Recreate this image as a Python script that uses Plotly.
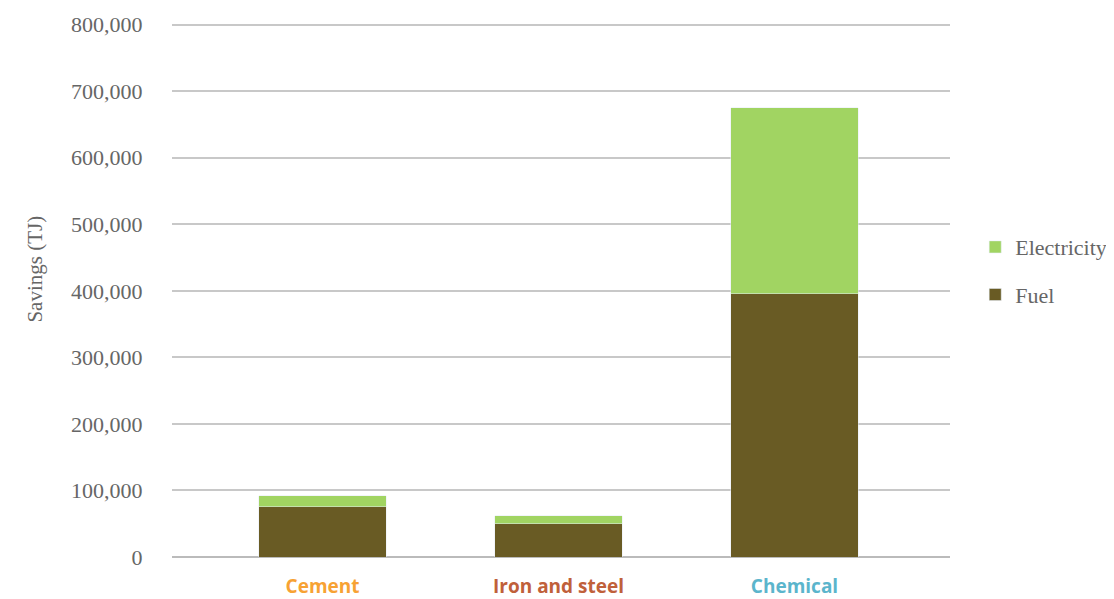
import plotly.graph_objects as go

categories = ["Cement", "Iron and steel", "Chemical"]
fuel = [75500, 50300, 395600]
electricity = [16800, 12000, 279500]
cat_colors = ["#F7A234", "#C0603A", "#5BB5CC"]
tick_vals = [0, 100000, 200000, 300000, 400000, 500000, 600000, 700000, 800000]
tick_text = ["0", "100,000", "200,000", "300,000", "400,000", "500,000", "600,000", "700,000", "800,000"]

x_idx = list(range(len(categories)))

fig = go.Figure()
fig.add_trace(go.Bar(x=x_idx, y=fuel, name="Fuel", marker_color="#695B24",
                     width=0.54, legendgroup="f", legendrank=2))
fig.add_trace(go.Bar(x=x_idx, y=electricity, name="Electricity", marker_color="#A1D462",
                     width=0.54, legendgroup="e", legendrank=1))

# page body has an 8px default margin, so the figure is offset by 8px
W, H = 1106, 591
plot_h = 539.2
fig.update_layout(
    barmode="stack",
    width=W, height=H,
    margin=dict(l=164, r=164, t=H - 41.5 - plot_h, b=41.5, autoexpand=False),
    plot_bgcolor="white", paper_bgcolor="white",
    font=dict(family="Liberation Serif", color="#666666", size=21),
    legend=dict(x=1.0324, y=(557.5 - 271.5) / plot_h, xanchor="left", yanchor="middle",
                traceorder="grouped", tracegroupgap=16,
                font=dict(family="Liberation Serif", size=22, color="#666666")),
    xaxis=dict(range=[-0.638, 2.659], tickmode="array", tickvals=x_idx,
               ticktext=[f"<b><span style='color:{c}'>{t}</span></b>" for t, c in zip(categories, cat_colors)],
               tickfont=dict(family="Open Sans", size=19),
               showgrid=False, zeroline=False, showline=False, ticks="outside",
               ticklen=12, tickcolor="rgba(0,0,0,0)", automargin=False),
    yaxis=dict(range=[0, 810000], tickmode="array", tickvals=tick_vals, ticktext=tick_text,
               tickfont=dict(size=22),
               gridcolor="#C8C8C8", gridwidth=1.5, zeroline=True, zerolinecolor="#BBBBBB",
               zerolinewidth=2, ticks="outside", ticklen=24, tickcolor="rgba(0,0,0,0)",
               automargin=False),
    annotations=[dict(text="Savings (TJ)", x=(21 - 172) / 778, y=(557.5 - 270) / plot_h,
                      xref="paper", yref="paper",
                      showarrow=False, textangle=-90,
                      font=dict(family="Liberation Serif", size=21, color="#666666"))],
)

fig.write_html("out.html")
